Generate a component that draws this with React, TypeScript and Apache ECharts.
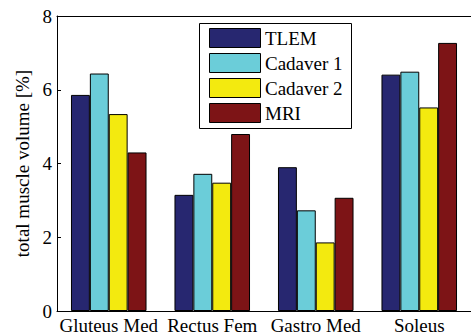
import React, { useEffect, useRef } from "react";
import * as echarts from "echarts";

const categories = ["Gluteus Med", "Rectus Fem", "Gastro Med", "Soleus"];
const seriesNames = ["TLEM", "Cadaver 1", "Cadaver 2", "MRI"];
const tlem = [5.86, 3.15, 3.9, 6.41];
const cadaver1 = [6.44, 3.72, 2.73, 6.49];
const cadaver2 = [5.34, 3.48, 1.86, 5.52];
const mri = [4.3, 4.8, 3.07, 7.27];
const seriesColors = ["#272770", "#6bcdd9", "#f3ea0f", "#7d1416"];
const yTicks = { min: 0, max: 8, interval: 2 };

export default function App() {
  const ref = useRef<HTMLDivElement>(null);
  useEffect(() => {
    if (!ref.current) return;
    const chart = echarts.init(ref.current, null, { renderer: "svg" });
    const font = "Liberation Serif";
    const values = [tlem, cadaver1, cadaver2, mri];
    const legendElements: any[] = [
      {
        type: "rect",
        shape: { x: 199.5, y: 23.5, width: 152, height: 105 },
        style: { fill: "#fff", stroke: "#000", lineWidth: 1 },
      },
    ];
    seriesNames.forEach((name, i) => {
      legendElements.push({
        type: "rect",
        shape: { x: 209.5, y: 28.5 + 25 * i, width: 51, height: 19 },
        style: { fill: seriesColors[i], stroke: "#000", lineWidth: 1 },
      });
      legendElements.push({
        type: "text",
        style: {
          x: 265,
          y: 38 + 25 * i,
          text: name,
          font: "19px 'Liberation Serif', 'Times New Roman', serif",
          fill: "#000",
          align: "left",
          verticalAlign: "middle",
        },
      });
    });
    chart.setOption({
      animation: false,
      backgroundColor: "#ffffff",
      textStyle: { fontFamily: font, color: "#000" },
      grid: { left: 57, top: 16, width: 427, height: 297 },
      graphic: [{ type: "group", z: 100, children: legendElements }],
      xAxis: [
        {
          type: "category",
          data: categories,
          position: "bottom",
          axisLine: { lineStyle: { color: "#000", width: 1 } },
          axisTick: { inside: true, length: 4, alignWithLabel: true, lineStyle: { color: "#000" } },
          axisLabel: { fontFamily: font, fontSize: 19, color: "#000", margin: 5, interval: 0 },
        },
        {
          type: "category",
          data: categories,
          position: "top",
          axisLine: { lineStyle: { color: "#000", width: 1 } },
          axisTick: { inside: true, length: 4, alignWithLabel: true, lineStyle: { color: "#000" } },
          axisLabel: { show: false },
        },
      ],
      yAxis: {
        type: "value",
        min: yTicks.min,
        max: yTicks.max,
        interval: yTicks.interval,
        name: "total muscle volume [%]",
        nameLocation: "middle",
        nameRotate: 90,
        nameGap: 25,
        nameTextStyle: { fontFamily: font, fontSize: 19, color: "#000" },
        axisLine: { show: true, lineStyle: { color: "#000", width: 1 } },
        axisTick: { show: true, inside: true, length: 4, lineStyle: { color: "#000" } },
        axisLabel: { fontFamily: font, fontSize: 19, color: "#000", margin: 5 },
        splitLine: { show: false },
      },
      series: seriesNames.map((name, i) => ({
        name,
        type: "bar",
        data: values[i],
        barGap: "0%",
        barCategoryGap: "27%",
        itemStyle: { color: seriesColors[i], borderColor: "#000", borderWidth: 1 },
      })),
    });
    return () => chart.dispose();
  }, []);
  return (
    <div
      ref={ref}
      style={{ position: "fixed", left: 0, top: 0, width: 471, height: 335 }}
    />
  );
}
